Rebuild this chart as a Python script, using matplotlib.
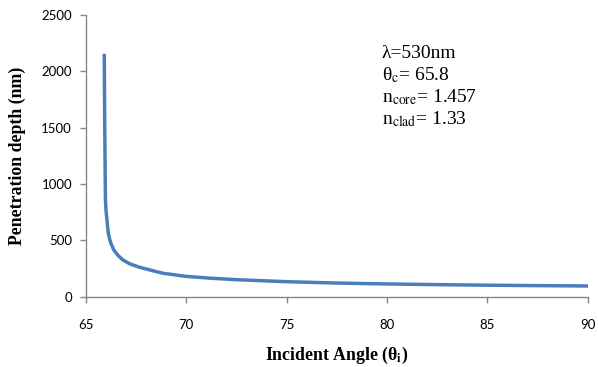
import matplotlib
matplotlib.use("Agg")
import matplotlib.pyplot as plt

# values
angle = [65.91, 65.93, 65.95, 65.97, 66.0, 66.05, 66.11, 66.18, 66.25, 66.39,
         66.6, 66.84, 67.2, 67.69, 68.3, 68.83, 69.5, 70.0, 71.2, 72.5,
         74.0, 75.0, 77.5, 80.0, 82.5, 85.0, 87.5, 90.0]
depth = [2140, 1600, 1200, 855, 760, 670, 565, 510, 470, 414,
         365, 326, 290, 260, 232, 208, 192, 180, 164, 151,
         140, 133, 121, 113, 107, 102, 98, 95]

xticks = [65, 70, 75, 80, 85, 90]
yticks = [0, 500, 1000, 1500, 2000, 2500]

plt.rcParams['mathtext.fontset'] = 'stix'
gray = '#868686'

fig = plt.figure(figsize=(5.98, 3.67), dpi=100)
ax = fig.add_axes([0.1438, 0.1916, 0.8392, 0.7675])

ax.plot(angle, depth, color='#4A7EBB', linewidth=2.5, solid_joinstyle='round')

ax.set_xlim(65, 90)
ax.set_ylim(0, 2500)
ax.set_xticks(xticks)
ax.set_yticks(yticks)
for s in ['top', 'right']:
    ax.spines[s].set_visible(False)
for s in ['left', 'bottom']:
    ax.spines[s].set_color(gray)
    ax.spines[s].set_linewidth(1.0)
ax.tick_params(axis='both', direction='out', length=4, color=gray, width=1.0,
               labelsize=9.5)
ax.tick_params(axis='x', pad=12)
ax.tick_params(axis='y', pad=6)
for lbl in ax.get_xticklabels() + ax.get_yticklabels():
    lbl.set_family('Lato')

ax.set_xlabel('Incident Angle (θ$_{\\mathbf{i}}$)', family='Liberation Serif',
              fontweight='bold', fontsize=12.8, labelpad=10)
ax.set_ylabel('Penetration depth (nm)', family='Liberation Serif',
              fontweight='bold', fontsize=12.8, labelpad=11)

# annotation block
notes = ['λ=530nm',
         'θ$_{\\mathrm{c}}$= 65.8',
         'n$_{\\mathrm{core}}$= 1.457',
         'n$_{\\mathrm{clad}}$= 1.33']
for i, t in enumerate(notes):
    fig.text(382 / 598, 1 - (53 + 22 * i) / 367, t, family='Liberation Serif',
             fontsize=14, va='center', ha='left')

fig.savefig('out.png', dpi=100)
